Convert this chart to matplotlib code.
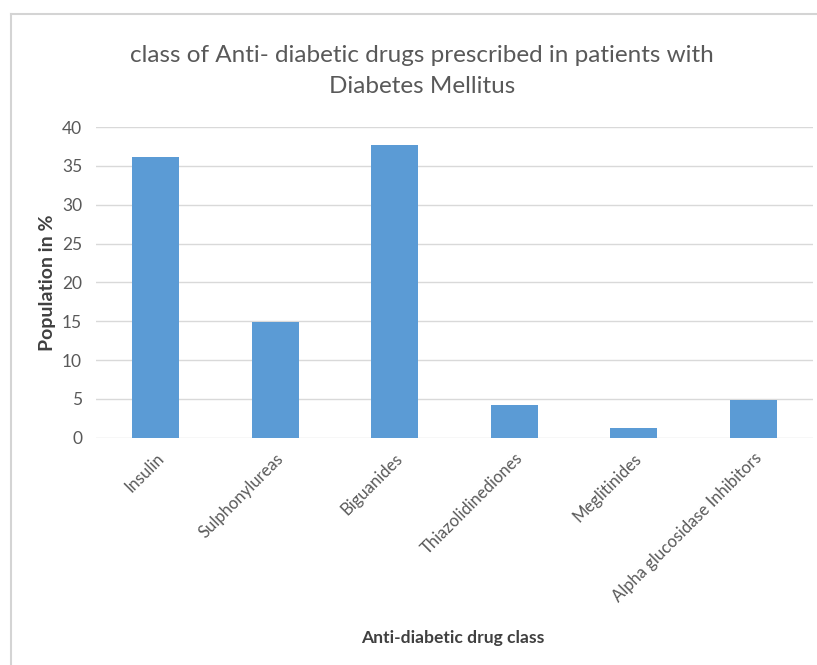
import matplotlib
matplotlib.use("Agg")
import matplotlib.pyplot as plt
from matplotlib.lines import Line2D

categories = ["Insulin", "Sulphonylureas", "Biguanides", "Thiazolidinediones",
              "Meglitinides", "Alpha glucosidase Inhibitors"]
values = [36.2, 14.9, 37.7, 4.2, 1.3, 4.9]
yticks = [0, 5, 10, 15, 20, 25, 30, 35, 40]

title = "class of Anti- diabetic drugs prescribed in patients with\nDiabetes Mellitus"
xlabel = "Anti-diabetic drug class"
ylabel = "Population in %"

FONT = "Lato"
W, H = 817, 665
fig = plt.figure(figsize=(W / 100, H / 100), dpi=100)
fig.patch.set_facecolor("white")

# chart frame (left and top border)
fig.add_artist(Line2D([11 / W, 11 / W], [0, 1 - 14 / H], color="#d4d4d4", lw=1.5))
fig.add_artist(Line2D([11 / W, 1], [1 - 14 / H, 1 - 14 / H], color="#d4d4d4", lw=1.5))

left, right, top, bottom = 96, 813, 127, 437.7
ax = fig.add_axes([left / W, 1 - bottom / H, (right - left) / W, (bottom - top) / H])
x = list(range(len(categories)))
ax.bar(x, values, width=0.395, color="#5b9bd5", zorder=3)
ax.set_xlim(-0.5, len(categories) - 0.5)
ax.set_ylim(0, 40)
ax.set_yticks(yticks)
ax.set_yticklabels([str(v) for v in yticks], fontfamily=FONT, fontsize=12.5, color="#595959")
ax.set_xticks(x)
ax.set_xticklabels(categories, rotation=45, ha="right", rotation_mode="anchor",
                   fontfamily=FONT, fontsize=12, color="#595959")
ax.tick_params(axis="both", length=0)
ax.tick_params(axis="y", pad=10)
ax.tick_params(axis="x", pad=9)
for s in ax.spines.values():
    s.set_visible(False)
ax.yaxis.grid(True, color="#d9d9d9", lw=1, zorder=0)
ax.set_axisbelow(True)

fig.text(0.5 * (132 + 712) / W, 1 - 71 / H, title, ha="center", va="center",
         fontfamily=FONT, fontsize=17.5, color="#595959", linespacing=1.6)
fig.text(47 / W, 1 - 283 / H, ylabel, rotation=90, ha="center", va="center",
         fontfamily=FONT, fontsize=14, fontweight="bold", color="#404040")
fig.text(453 / W, 1 - 638 / H, xlabel, ha="center", va="center",
         fontfamily=FONT, fontsize=12.6, fontweight="bold", color="#404040")

fig.savefig("out.png", dpi=100, facecolor="white")
